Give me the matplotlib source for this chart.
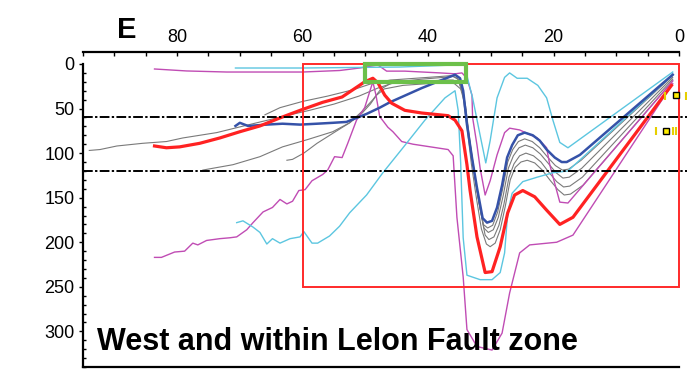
import matplotlib
matplotlib.use("Agg")
import matplotlib.pyplot as plt
from matplotlib.patches import Rectangle
from matplotlib.ticker import MultipleLocator

plt.rcParams['font.family'] = ['Liberation Sans', 'DejaVu Sans']

# ---------------- data (distance, depth) ----------------
m1_x = [83.6, 82.5, 80.4, 78.8, 77.5, 76.7, 75.3, 73.2, 71.6, 70.5, 68.9, 67.9, 66.3, 64.8, 63.6, 62.5,
        61.6, 60.6, 59.6, 58.5, 56.8, 56.0, 54.9, 53.7, 52.8, 51.4, 50.1, 49.3, 48.8, 48.3, 47.7, 46.4,
        45.6, 44.2, 42.4, 36.8, 36.0, 35.4, 34.4, 33.8, 32.2, 29.8, 28.2, 27.0, 25.4, 23.8, 19.5, 16.9, 1.0]
m1_y = [217, 217, 211, 210, 201, 203, 198, 196, 195, 194, 186, 178, 166, 161, 152, 157,
        154, 142, 141, 131, 124, 119, 104, 105, 89, 63, 49, 31, 20, 35, 59, 71,
        76, 87, 90, 96, 103, 172, 239, 298, 317, 321, 302, 257, 212, 203, 200, 192, 22]

m2_x = [83.6, 78.5, 72.1, 60.0, 54.1, 50.9, 48.0, 46.6, 43.7, 38.1, 35.7, 34.6, 33.8, 33.0, 32.9, 32.2,
        31.7, 30.9, 30.1, 29.0, 27.8, 27.0, 25.4, 22.6, 21.1, 20.6, 19.5, 19.0, 17.7, 1.0]
m2_y = [5.6, 7.8, 9.0, 9.0, 7.3, 4.5, 1.1, 8.0, 8.0, 10, 11, 10, 16, 35, 60, 91,
        117, 147, 131, 102, 77, 72, 74, 83, 94, 113, 142, 155, 156, 19]

c1_x = [70.7, 60.0, 44.5, 35.7, 34.1, 33.7, 32.9, 31.7, 30.8, 30.1, 29.0, 27.8, 27.0, 25.8, 24.2, 22.5,
        21.1, 20.1, 19.0, 17.7, 1.0]
c1_y = [4.5, 4.5, 3.4, 1.1, 0.5, 16, 38, 80, 111, 86, 38, 15, 10, 16, 16, 24,
        38, 63, 88, 94, 9]

c2_x = [70.5, 69.5, 67.9, 66.8, 65.7, 64.8, 63.6, 62.0, 60.4, 59.8, 58.5, 57.6, 55.7, 54.1, 52.5, 49.8,
        47.2, 44.0, 40.5, 37.3, 35.7, 35.2, 34.8, 34.4, 33.8, 31.7, 29.8, 28.5, 27.8, 27.3, 26.6, 24.9,
        22.6, 20.1, 17.7, 1.0]
c2_y = [178, 176, 183, 189, 202, 196, 201, 196, 194, 188, 201, 201, 193, 182, 167, 147,
        122, 94, 63, 38, 30, 52, 111, 195, 237, 242, 242, 234, 212, 167, 145, 132,
        127, 122, 120, 12]

blue_x = [70.7, 70.0, 68.7, 65.7, 63.2, 60.4, 57.7, 55.2, 53.0, 51.4, 49.8, 47.7, 46.1, 41.0, 35.7, 34.9,
          34.4, 33.8, 33.0, 32.2, 31.3, 30.6, 29.8, 29.0, 28.2, 27.4, 26.6, 25.7, 24.6, 23.3, 22.2, 21.1,
          19.8, 18.7, 17.9, 15.8, 1.0]
blue_y = [69.5, 66, 69.5, 68, 67, 68, 67, 66, 65, 60.5, 56, 49, 43, 27, 12, 16,
          30, 68, 105, 139, 173, 178, 176, 161, 136, 105, 91, 80, 77, 80, 86, 96,
          105, 110, 110, 102, 12]

red_x = [83.6, 81.7, 79.6, 76.4, 73.2, 70.0, 66.8, 63.6, 60.4, 56.8, 53.7, 52.0, 50.1, 48.8, 48.0, 46.9,
         45.8, 43.7, 41.0, 36.8, 35.7, 34.6, 33.8, 33.3, 32.2, 30.9, 29.8, 28.5, 27.3, 26.2, 24.9, 23.0,
         21.1, 19.0, 16.9, 1.2]
red_y = [92, 94, 93, 89, 83, 76, 69.5, 60.5, 52, 43, 37, 29, 20, 16, 21, 35,
         44, 52, 55, 58, 63, 75, 113, 142, 194, 234, 233, 205, 167, 147, 142, 149,
         164, 180, 172, 24]

g1_x = [94.0, 92.3, 89.6, 85.5, 81.7, 79.1, 73.7, 68.5, 63.2, 58.9, 55.0, 51.0, 48.0, 45.0, 41.0, 37.5,
        36.0, 35.0, 34.3, 33.6, 32.8, 32.0, 31.2, 30.5, 29.7, 28.9, 28.1, 27.3, 26.5, 25.6, 24.6, 23.4,
        22.2, 21.0, 19.7, 18.6, 17.6, 15.6, 1.0]
g1_y = [97, 96, 92, 89, 87, 83, 77, 68, 59, 52, 45, 36, 27, 20, 17, 15,
        14, 18, 35, 75, 115, 150, 180, 184, 181, 166, 140, 110, 96, 87, 84, 87,
        94, 104, 114, 119, 118, 108, 13]

g2_x = [75.9, 71.1, 66.8, 63.2, 59.3, 55.2, 52.5, 50.5, 48.8, 47.5, 46.0, 42.0, 37.5,
        36.0, 35.0, 34.2, 33.5, 32.7, 31.9, 31.1, 30.4, 29.6, 28.8, 28.0, 27.2, 26.4, 25.5, 24.5,
        23.3, 22.1, 20.9, 19.6, 18.5, 17.5, 15.5, 1.0]
g2_y = [119, 113, 104, 93, 85, 76, 66, 53, 40, 28, 22, 20, 18,
        18, 22, 40, 80, 120, 155, 184, 189, 186, 172, 147, 117, 103, 94, 91,
        94, 101, 111, 122, 128, 127, 117, 15]

g3_x = [62.5, 61.6, 59.8, 57.7, 55.0, 52.5, 50.5, 49.2, 48.2, 47.0, 44.0, 40.0, 37.0,
        35.8, 34.8, 34.0, 33.3, 32.5, 31.7, 30.9, 30.3, 29.5, 28.7, 27.9, 27.1, 26.3, 25.4, 24.4,
        23.2, 22.0, 20.8, 19.5, 18.4, 17.4, 15.4, 1.0]
g3_y = [108, 107, 100, 89, 77, 66, 55, 45, 35, 28, 24, 22, 21,
        22, 28, 48, 88, 128, 163, 192, 197, 194, 181, 157, 127, 112, 103, 100,
        103, 110, 121, 132, 138, 137, 127, 17]

g4_x = [66.0, 63.6, 60.0, 56.0, 52.0, 49.0, 46.0, 42.0, 38.0,
        36.3, 35.3, 34.5, 33.8, 33.1, 32.3, 31.5, 30.7, 30.1, 29.3, 28.5, 27.7, 26.9, 26.1, 25.2,
        24.2, 23.0, 21.8, 20.6, 19.3, 18.3, 17.3, 15.3, 1.0]
g4_y = [57, 49, 42, 36, 29, 22, 18, 16, 14,
        13, 16, 32, 70, 112, 150, 185, 202, 205, 201, 186, 160, 130, 116, 110,
        108, 111, 119, 130, 141, 147, 146, 136, 19]

ref_depths = [60, 120]
red_box = (0, 0, 60, 250)       # x0, y0, width, height
green_box = (34, 0, 16, 20)

sq_x = [0.5, 2.1]
sq_y = [35, 75]
bar_x = [2.2, -1.1, 3.7, 1.0, 0.5]
bar_y = [36, 36, 75, 75, 75]

x_ticks = [80, 60, 40, 20, 0]
y_ticks = [0, 50, 100, 150, 200, 250, 300]

# ---------------- figure ----------------
W, H = 687, 370
fig = plt.figure(figsize=(W / 100, H / 100), dpi=100)
ax = fig.add_axes([83 / W, 1 - 367 / H, (679 - 83) / W, (367 - 64) / H])
ax.set_xlim(95, 0)
ax.set_ylim(340, 0)

MAG = '#c04cb4'
CYA = '#5cc6e0'
GRY = '#7a7a7a'

for gx, gy in [(g1_x, g1_y), (g2_x, g2_y), (g3_x, g3_y), (g4_x, g4_y)]:
    ax.plot(gx, gy, color=GRY, lw=0.8, zorder=3)
ax.plot(m2_x, m2_y, color=MAG, lw=1.0, zorder=3)
ax.plot(m1_x, m1_y, color=MAG, lw=1.0, zorder=3)
ax.plot(c1_x, c1_y, color=CYA, lw=1.0, zorder=3)
ax.plot(c2_x, c2_y, color=CYA, lw=1.0, zorder=3)
ax.plot(blue_x, blue_y, color='#3552a8', lw=1.8, zorder=4)
ax.plot(red_x, red_y, color='#ff2222', lw=2.3, zorder=5)

for d in ref_depths:
    ax.plot([95, -1.3], [d, d], color='black', lw=1.4,
            linestyle=(0, (5, 1.2, 1.2, 1.2)), clip_on=False, zorder=6)

ax.add_patch(Rectangle((red_box[0], red_box[1]), red_box[2], red_box[3],
                       fill=False, edgecolor='#ff2a2a', lw=1.4, clip_on=False, zorder=7))
ax.add_patch(Rectangle((green_box[0], green_box[1]), green_box[2], green_box[3],
                       fill=False, edgecolor='#6cc04a', lw=3.0, clip_on=False, zorder=7))

ax.plot(sq_x, sq_y, linestyle='none', marker='s', ms=5, mfc='#ffee00', mec='black', mew=1.0,
        clip_on=False, zorder=8)
ax.plot(bar_x, bar_y, linestyle='none', marker='|', ms=6, mec='#e6cf00', mew=1.5,
        clip_on=False, zorder=8)

# axes styling
ax.spines['right'].set_visible(False)
ax.spines['top'].set_position(('outward', 8.6))
for s in ['top', 'left', 'bottom']:
    ax.spines[s].set_linewidth(1.6)
    ax.spines[s].set_color('black')

ax.xaxis.tick_top()
ax.set_xticks(x_ticks)
ax.xaxis.set_minor_locator(MultipleLocator(5))
ax.tick_params(axis='x', which='both', direction='in', length=3, width=1, pad=4, labelsize=13)
ax.set_yticks(y_ticks)
ax.yaxis.set_minor_locator(MultipleLocator(10))
ax.tick_params(axis='y', which='major', direction='out', length=3, width=1, pad=3, labelsize=13)
ax.tick_params(axis='y', which='minor', direction='in', length=2, width=1)

fig.text(117 / W, 1 - 38 / H, 'E', fontsize=21, fontweight='bold', va='baseline', ha='left')
fig.text(97 / W, 1 - 350 / H, 'West and within Lelon Fault zone', fontsize=22,
         fontweight='bold', va='baseline', ha='left')

fig.savefig('out.png', dpi=100)
